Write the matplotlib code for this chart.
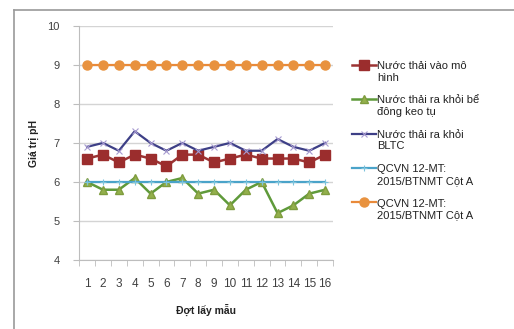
import numpy as np
import matplotlib.pyplot as plt
from matplotlib.lines import Line2D
from matplotlib.legend_handler import HandlerLine2D

plt.rcParams['font.family'] = ['Liberation Sans', 'DejaVu Sans']

dot = list(range(1, 17))
vao_mo_hinh = [6.6, 6.7, 6.5, 6.7, 6.6, 6.4, 6.7, 6.7, 6.5, 6.6, 6.7, 6.6, 6.6, 6.6, 6.5, 6.7]
ra_keo_tu = [6.0, 5.8, 5.8, 6.1, 5.7, 6.0, 6.1, 5.7, 5.8, 5.4, 5.8, 6.0, 5.2, 5.4, 5.7, 5.8]
ra_bltc = [6.9, 7.0, 6.8, 7.3, 7.0, 6.8, 7.0, 6.8, 6.9, 7.0, 6.8, 6.8, 7.1, 6.9, 6.8, 7.0]
qcvn_min = [6] * 16
qcvn_max = [9] * 16

nhan = ['Nước thải vào mô\nhình',
        'Nước thải ra khỏi bể\nđông keo tụ',
        'Nước thải ra khỏi\nBLTC',
        'QCVN 12-MT:\n2015/BTNMT Cột A',
        'QCVN 12-MT:\n2015/BTNMT Cột A']


# dat ky hieu chu thich ngang dong chu dau tien
class HandlerDongDau(HandlerLine2D):
    def create_artists(self, legend, orig_handle, xdescent, ydescent,
                       width, height, fontsize, trans):
        return super().create_artists(legend, orig_handle, xdescent, ydescent - 10,
                                      width, height, fontsize, trans)


fig = plt.figure(figsize=(5.14, 3.29), dpi=100)
ax = fig.add_axes([0.154, 0.21, 0.494, 0.711])

# khung ngoai
fig.add_artist(Line2D([14 / 514, 14 / 514], [0, 1 - 10 / 329], transform=fig.transFigure,
                      color='#9a9a9a', lw=1.2))
fig.add_artist(Line2D([14 / 514, 1], [1 - 10 / 329, 1 - 10 / 329], transform=fig.transFigure,
                      color='#9a9a9a', lw=1.2))

l1, = ax.plot(dot, vao_mo_hinh, color='#9c3434', lw=1.8, marker='s', ms=6.5,
              mfc='#9b2d2d', mec='#9b2d2d')
l2, = ax.plot(dot, ra_keo_tu, color='#5f9a3a', lw=1.8, marker='^', ms=6,
              mfc='#93b04c', mec='#7f9c3e')
l3, = ax.plot(dot, ra_bltc, color='#3d3f86', lw=1.6, marker='x', ms=5,
              mec='#a79ad0', mew=0.8)
l4, = ax.plot(dot, qcvn_min, color='#4aa3c9', lw=1.6, marker='+', ms=5,
              mec='#7cc3dc', mew=0.8)
l5, = ax.plot(dot, qcvn_max, color='#e98a3a', lw=1.6, marker='o', ms=6.5,
              mfc='#e8923f', mec='#e8923f')

ax.set_xlim(0.5, 16.5)
ax.set_ylim(4, 10)
ax.set_xticks(dot)
ax.set_xticklabels([str(d) for d in dot])
ax.set_xticks(np.arange(0.5, 17, 1), minor=True)
ax.set_yticks(range(4, 11))
ax.yaxis.grid(True, color='#d4d4d4', lw=1)
ax.set_axisbelow(True)
for s in ['top', 'right']:
    ax.spines[s].set_visible(False)
ax.spines['left'].set_color('#bdbdbd')
ax.spines['bottom'].set_color('#bdbdbd')
ax.tick_params(axis='x', which='major', length=0, pad=13, labelsize=8.5, colors='#404040')
ax.tick_params(axis='x', which='minor', length=4, color='#bdbdbd')
ax.tick_params(axis='y', length=4, color='#bdbdbd', pad=10, labelsize=8, colors='#404040')

ax.set_xlabel('Đợt lấy mẫu', fontsize=7.5, fontweight='bold', labelpad=10, color='#222222')
ax.set_ylabel('Giá trị pH', fontsize=7.5, fontweight='bold', labelpad=6, color='#222222')

hm = {l: HandlerDongDau() for l in [l1, l2, l3, l4, l5]}
fig.legend([l1, l2, l3, l4, l5], nhan, loc='upper left', handler_map=hm,
           bbox_to_anchor=(0.665, 0.845), frameon=False, fontsize=8,
           handlelength=2.2, handletextpad=0.05, labelspacing=1.15,
           labelcolor='#222222')

fig.savefig('out.png', dpi=100)
